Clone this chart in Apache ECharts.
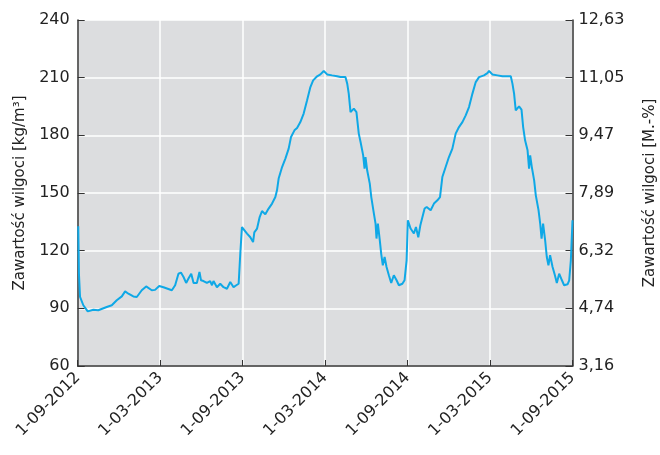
<!DOCTYPE html>
<html>
<head>
<meta charset="utf-8">
<script src="https://cdn.jsdelivr.net/npm/echarts@6/dist/echarts.min.js"></script>
<style>
html,body{margin:0;padding:0;background:#fff;}
#chart{width:660px;height:455px;}
</style>
</head>
<body>
<div id="chart"></div>
<script>
// x = months since 1-09-2012
var dateLabels = ['1-09-2012','1-03-2013','1-09-2013','1-03-2014','1-09-2014','1-03-2015','1-09-2015'];
var rightLabels = ['3,16','4,74','6,32','7,89','9,47','11,05','12,63'];
var months = [0.04,0.09,0.17,0.41,0.73,1.14,1.50,2.11,2.48,2.84,3.21,3.45,3.69,4.05,4.30,4.66,4.98,5.39,5.63,5.93,6.24,
6.36,6.85,7.09,7.33,7.51,7.70,7.89,8.06,8.26,8.43,8.67,8.86,8.97,9.15,9.40,9.64,9.77,9.88,10.13,10.37,10.61,10.86,11.10,11.34,11.54,11.71,11.83,
11.95,12.07,12.32,12.56,12.76,12.85,13.05,13.24,13.41,13.65,13.89,14.14,14.38,14.50,14.62,14.87,15.11,15.35,15.52,15.77,15.96,16.20,16.44,16.69,16.93,17.13,17.42,17.66,17.90,
18.15,18.51,18.88,19.12,19.48,19.61,19.72,19.85,20.09,20.28,20.45,20.58,20.77,20.87,20.94,21.06,21.25,21.36,21.55,21.67,21.74,21.84,21.98,22.08,22.20,22.33,22.47,22.64,22.81,23.00,23.20,23.37,23.62,23.78,23.93,
24.02,24.22,24.46,24.61,24.78,24.93,25.07,25.24,25.39,25.68,25.92,26.17,26.36,26.53,26.77,27.01,27.26,27.50,27.74,27.99,28.23,28.47,28.72,28.96,29.20,29.56,29.81,29.93,
30.17,30.54,30.90,31.27,31.51,31.63,31.75,31.87,32.11,32.29,32.41,32.55,32.73,32.84,32.92,33.04,33.21,33.33,33.53,33.65,33.75,33.86,34.01,34.13,34.25,34.37,34.55,34.72,34.86,35.03,35.23,35.39,35.64,35.76,35.88,36.00];
var moisture = [132.7,108,96,91.6,88.4,89.3,89,90.7,91.6,94.2,96.2,98.8,97.6,96.2,95.9,99.4,101.4,99.4,99.6,101.6,101,
100.2,99.4,102,108,108.6,106.3,103.2,105.5,108,103.2,103.2,108.9,104.6,104.2,103.2,104.2,102,104.2,101,102.8,101,100.2,103.7,101,102,102.8,118.5,
132.3,133.2,128.9,127,124.5,129.5,131.5,137.5,140.6,138.9,141.9,144.5,147.9,151.4,157.5,163.5,167.9,173.1,179.1,182.6,183.8,186.9,191.3,198.2,205.1,208.6,210.7,211.7,213.5,
211.7,211.2,210.7,210.3,210.3,206.9,201.7,192.1,193.9,192.1,180.9,176.5,169.6,162.7,168.7,161.8,154.9,147.9,139.3,134.1,126.3,134.1,125.4,118.5,112.4,116.7,111.5,107.2,103.2,107.2,104.6,102,102.8,104.6,115,
135.8,131.5,128.9,132.3,127,133.2,134.1,141.9,142.7,141,144.5,146.2,147.9,158.3,163.5,168.7,173.1,180.9,184.3,186.9,190.4,194.7,201.7,207.7,210.3,211.2,212.4,213.5,
211.7,211.2,210.7,210.7,210.7,206.9,201.7,193,195.1,193.4,184.3,177.4,172.2,162.7,169.6,163.5,156.6,148.8,141,134.1,126.3,134.1,125.4,116.7,112.4,117.6,111.5,107.2,103.2,108,104.6,102,102.5,104.6,115,135.8];

var data = months.map(function(m,i){return [m, moisture[i]];});
var font = 'DejaVu Sans';
var chart = echarts.init(document.getElementById('chart'), null, {renderer:'canvas'});
chart.setOption({
  animation:false,
  backgroundColor:'#ffffff',
  grid:{left:77.7, right:87.5, top:20, bottom:89, show:true, backgroundColor:'#dcdddf', borderWidth:0, outerBoundsMode:'none', containLabel:false},
  xAxis:{
    type:'value', min:0, max:36, interval:6,
    axisLine:{show:true, lineStyle:{color:'#333', width:1.5}},
    axisTick:{show:true, inside:true, length:6, lineStyle:{color:'#333'}},
    splitLine:{show:true, lineStyle:{color:'#ffffff', width:1.5}},
    axisLabel:{rotate:45, margin:9, color:'#222', fontFamily:font, fontSize:16,
      formatter:function(v){return dateLabels[Math.round(v/6)];}}
  },
  yAxis:[{
    type:'value', min:60, max:240, interval:30, position:'left',
    name:'Zawartość wilgoci [kg/m³]', nameLocation:'middle', nameRotate:90, nameGap:50,
    nameTextStyle:{color:'#222', fontFamily:font, fontSize:15},
    axisLine:{show:true, lineStyle:{color:'#333', width:1.5}},
    axisTick:{show:true, inside:true, length:7, lineStyle:{color:'#333'}},
    splitLine:{show:true, lineStyle:{color:'#ffffff', width:1.5}},
    axisLabel:{margin:8, color:'#222', fontFamily:font, fontSize:16}
  },{
    type:'value', min:60, max:240, interval:30, position:'right',
    name:'Zawartość wilgoci [M.-%]', nameLocation:'middle', nameRotate:90, nameGap:70,
    nameTextStyle:{color:'#222', fontFamily:font, fontSize:15},
    axisLine:{show:true, lineStyle:{color:'#333', width:1.5}},
    axisTick:{show:true, inside:true, length:7, lineStyle:{color:'#333'}},
    splitLine:{show:false},
    axisLabel:{margin:6, color:'#222', fontFamily:font, fontSize:16,
      formatter:function(v){return rightLabels[Math.round((v-60)/30)];}}
  }],
  series:[{
    type:'line', data:data, yAxisIndex:0, showSymbol:false, smooth:false,
    lineStyle:{color:'#0fa8e6', width:2}
  }]
});
</script>
</body>
</html>
